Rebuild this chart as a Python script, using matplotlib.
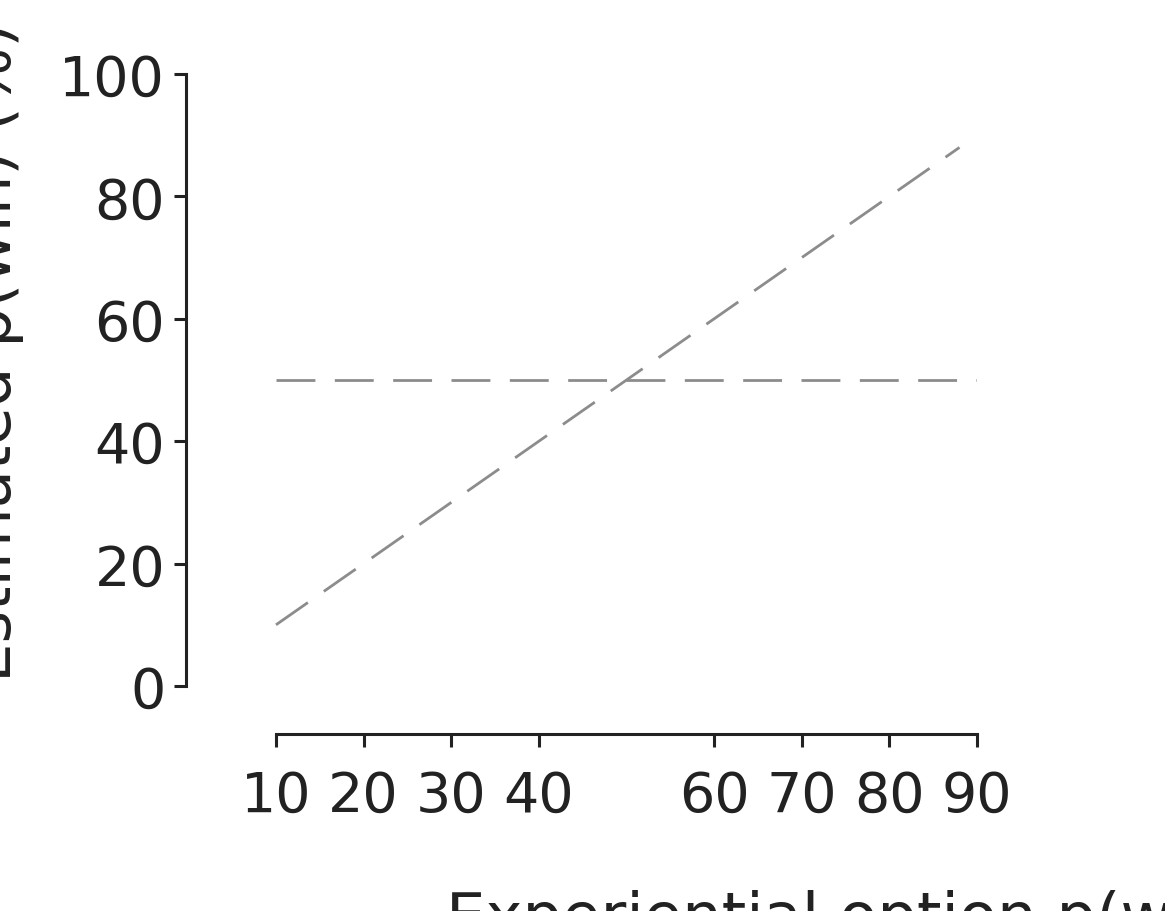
import matplotlib
matplotlib.use("Agg")
import matplotlib.pyplot as plt

x_identity = [10, 88]
y_identity = [10, 88]
x_chance = [10, 90]
y_chance = [50, 50]
xticks = [10, 20, 30, 40, 60, 70, 80, 90]
yticks = [0, 20, 40, 60, 80, 100]

fig = plt.figure(figsize=(11.65, 9.12), dpi=100)
ax = fig.add_axes([186/1165, 1-735/912, (977-186)/1165, (735-75)/912])
ax.plot(x_identity, y_identity, color="#8c8c8c", lw=2, dashes=[14, 7])
ax.plot(x_chance, y_chance, color="#8c8c8c", lw=2, dashes=[14, 7])
ax.set_xlim(-0.27, 90)
ax.set_ylim(-7.84, 100)
for s in ["top", "right"]:
    ax.spines[s].set_visible(False)
ax.spines["left"].set_bounds(0, 100)
ax.spines["bottom"].set_bounds(10, 90)
for s in ["left", "bottom"]:
    ax.spines[s].set_linewidth(2.2)
    ax.spines[s].set_color("#222222")
ax.set_xticks(xticks)
ax.set_yticks(yticks)
ax.tick_params(labelsize=40, width=2.2, length=9, color="#222222", labelcolor="#222222")
ax.tick_params(axis="x", pad=16)
ax.tick_params(axis="y", pad=6)
ax.set_xlabel("Experiential option p(win) (%)", fontsize=45, color="#222222", labelpad=8)
ax.set_ylabel("Estimated p(win) (%)", fontsize=45, color="#222222", labelpad=4)
ax.xaxis.set_label_coords(0.92, -0.235)
ax.yaxis.set_label_coords(-0.205, 0.58)
fig.savefig("out.png", dpi=100)
